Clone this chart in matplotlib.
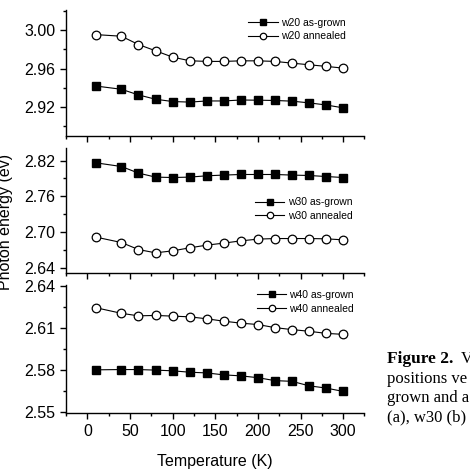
import matplotlib
matplotlib.use("Agg")
import matplotlib.pyplot as plt
from matplotlib.ticker import FormatStrFormatter

plt.rcParams['font.family'] = ['Liberation Sans', 'DejaVu Sans']

# ---- data ----
temperature = [10, 40, 60, 80, 100, 120, 140, 160, 180, 200, 220, 240, 260, 280, 300]

w20_as_grown = [2.9418, 2.9384, 2.9325, 2.9280, 2.9256, 2.9250, 2.9262, 2.9262,
                2.9272, 2.9270, 2.9267, 2.9260, 2.9242, 2.9220, 2.9190]
w20_annealed = [2.9955, 2.9938, 2.9851, 2.9786, 2.9720, 2.9682, 2.9675, 2.9675,
                2.9681, 2.9681, 2.9675, 2.9657, 2.9640, 2.9623, 2.9605]

w30_as_grown = [2.8161, 2.8099, 2.7988, 2.7921, 2.7914, 2.7921, 2.7943, 2.7955,
                2.7965, 2.7965, 2.7965, 2.7955, 2.7948, 2.7931, 2.7914]
w30_annealed = [2.6913, 2.6822, 2.6704, 2.6649, 2.6682, 2.6733, 2.6778, 2.6812,
                2.6850, 2.6879, 2.6889, 2.6889, 2.6889, 2.6884, 2.6867]

w40_as_grown = [2.5800, 2.5802, 2.5802, 2.5798, 2.5793, 2.5783, 2.5778, 2.5764,
                2.5757, 2.5744, 2.5723, 2.5718, 2.5686, 2.5670, 2.5646]
w40_annealed = [2.6243, 2.6203, 2.6185, 2.6188, 2.6183, 2.6178, 2.6164, 2.6147,
                2.6133, 2.6123, 2.6101, 2.6087, 2.6075, 2.6060, 2.6053]

labels_as_grown = ["w20 as-grown", "w30 as-grown", "w40 as-grown"]
labels_annealed = ["w20 annealed", "w30 annealed", "w40 annealed"]

x_major = [0, 50, 100, 150, 200, 250, 300]
x_minor = [-25, 25, 75, 125, 175, 225, 275, 325]

y_major = [[2.92, 2.96, 3.00], [2.64, 2.70, 2.76, 2.82], [2.55, 2.58, 2.61, 2.64]]
y_minor = [[2.90, 2.94, 2.98, 3.02], [2.67, 2.73, 2.79], [2.565, 2.595, 2.625]]
y_limits = [(2.8896, 3.0212), (2.6310, 2.8410), (2.5490, 2.6405)]

caption_lines = ["positions ve", "grown and a", "(a), w30 (b)"]

# ---- figure ----
W, H = 470, 473
fig = plt.figure(figsize=(W / 100, H / 100), dpi=100)

def px_axes(left, top, right, bottom):
    return fig.add_axes([left / W, 1 - bottom / H, (right - left) / W, (bottom - top) / H])

axes = [px_axes(66, 10, 364.5, 136),
        px_axes(66, 148, 364.5, 273),
        px_axes(66, 285, 364.5, 413.3)]

series = [(w20_as_grown, w20_annealed), (w30_as_grown, w30_annealed), (w40_as_grown, w40_annealed)]
legend_anchor = [(0.611, 0.940), (0.634, 0.606), (0.640, 0.962)]

for i, ax in enumerate(axes):
    ag, an = series[i]
    ax.plot(temperature, ag, color='black', lw=0.8, marker='s', markersize=5.6,
            markerfacecolor='black', markeredgecolor='black', label=labels_as_grown[i])
    ax.plot(temperature, an, color='black', lw=0.8, marker='o', markersize=6.2,
            markerfacecolor='white', markeredgecolor='black', markeredgewidth=0.9,
            label=labels_annealed[i])
    ax.set_xlim(-25, 325)
    ax.set_ylim(*y_limits[i])
    ax.set_xticks(x_major)
    ax.set_xticks(x_minor, minor=True)
    ax.set_yticks(y_major[i])
    ax.set_yticks(y_minor[i], minor=True)
    ax.yaxis.set_major_formatter(FormatStrFormatter('%.2f'))
    for s in ['top', 'right']:
        ax.spines[s].set_visible(False)
    for s in ['left', 'bottom']:
        ax.spines[s].set_linewidth(1.0)
    ax.tick_params(which='major', direction='out', length=4.5, width=1.0,
                   labelsize=11.5, pad=3)
    ax.tick_params(which='minor', direction='out', length=2.5, width=1.0)
    if i < 2:
        ax.tick_params(labelbottom=False)
    ax.patch.set_alpha(0)
    ax.legend(loc='upper left', bbox_to_anchor=legend_anchor[i], frameon=False,
              fontsize=7.5, handlelength=2.8, handletextpad=0.3, borderpad=0,
              borderaxespad=0, labelspacing=0.35, numpoints=1, markerscale=0.75)

fig.text(6 / W, 1 - 222 / H, "Photon energy (ev)", rotation=90, ha='center',
         va='center', fontsize=11.5)
fig.text(215 / W, 1 - 461 / H, "Temperature (K)", ha='center', va='center',
         fontsize=11.5)

# caption (partially cut off at right edge, as in the reference)
fig.text(387 / W, 1 - 363 / H, "Figure 2.", fontfamily='Liberation Serif',
         fontweight='bold', fontsize=12.5, va='baseline', ha='left')
fig.text(461 / W, 1 - 363 / H, "V", fontfamily='Liberation Serif',
         fontsize=12, va='baseline', ha='left')
for k, line in enumerate(caption_lines):
    fig.text(387 / W, 1 - (382.5 + 19.5 * k) / H, line, fontfamily='Liberation Serif',
             fontsize=12, va='baseline', ha='left')

fig.savefig("out.png", dpi=100)
